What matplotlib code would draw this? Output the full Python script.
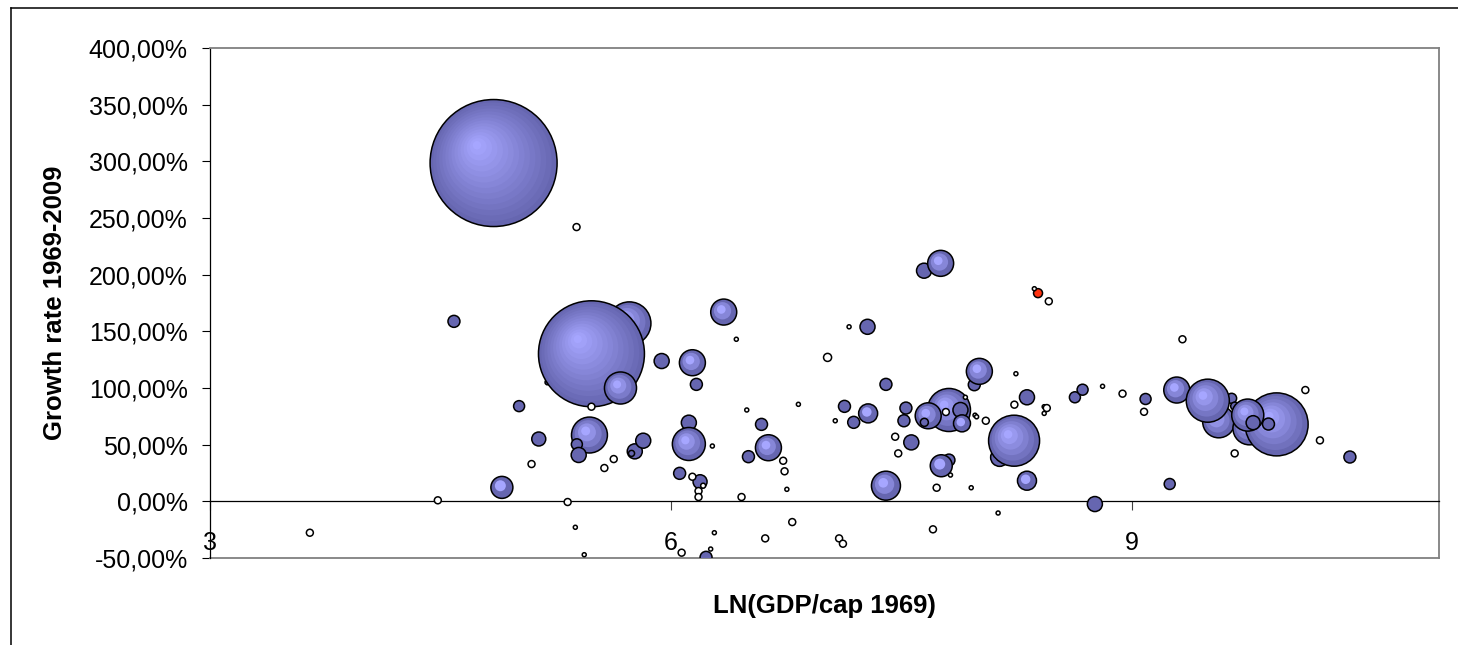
import numpy as np
import matplotlib
matplotlib.use('Agg')
import matplotlib.pyplot as plt
from matplotlib.patches import Ellipse
from matplotlib.lines import Line2D
from matplotlib.ticker import FuncFormatter, MultipleLocator

plt.rcParams['font.family'] = ['Liberation Sans', 'DejaVu Sans']

# main series: LN(GDP/cap 1969), growth 1969-2009 in %, bubble size (population, millions)
blue_x = [4.846, 5.73, 5.197, 5.483, 5.672, 4.588, 5.012, 5.14, 5.47, 5.388,
          5.40, 5.765, 5.744, 5.82, 4.90, 5.94, 6.14, 6.166, 6.117, 6.117,
          6.057, 6.19, 6.229, 6.344, 6.59, 6.635, 6.505, 7.28, 7.13, 7.19,
          7.284, 7.40, 7.40, 7.53, 7.517, 7.565, 7.81, 7.675, 7.65, 7.885,
          7.895, 7.975, 8.008, 7.81, 7.76, 7.648, 7.756, 8.318, 8.14, 8.234,
          8.318, 8.63, 8.68, 8.76, 9.09, 9.247, 9.293, 9.566, 9.65, 9.67,
          9.495, 9.766, 9.845, 9.943, 9.755, 9.79, 9.89, 10.42]
blue_y = [298.5, 157.0, 105.0, 130.2, 100.0, 158.8, 84.0, 55.0, 58.5, 50.3,
          40.9, 44.1, 42.3, 53.5, 12.3, 123.8, 122.3, 103.2, 69.4, 50.6,
          24.7, 17.3, -49.4, 167.0, 67.9, 47.3, 39.4, 154.0, 83.8, 69.7,
          77.6, 103.2, 13.8, 82.3, 71.1, 52.0, 80.6, 75.5, 69.7, 80.6,
          68.8, 102.9, 114.7, 36.4, 31.4, 203.5, 210.0, 91.8, 38.8, 53.5,
          18.2, 91.8, 98.5, -2.4, 90.3, 15.3, 98.2, 70.2, 90.9, 84.0,
          88.8, 64.4, 64.4, 67.9, 76.1, 69.4, 68.2, 39.1]
blue_pop = [800, 92, 1.2, 557, 51, 7.1, 6.0, 9.7, 64, 6.0,
            11.2, 11.2, 1.8, 11.2, 24, 11.2, 33.5, 7.1, 11.2, 54,
            7.1, 9.7, 7.1, 33.5, 7.1, 33.5, 7.1, 11.2, 7.1, 7.1,
            17.9, 7.1, 41.7, 7.1, 7.1, 11.2, 92, 33.5, 3.2, 11.2,
            14.3, 7.1, 33.5, 7.1, 24, 11.2, 33.5, 11.2, 16.1, 129,
            17.9, 6.0, 6.0, 11.2, 6.0, 6.0, 33.5, 51, 5.0, 3.2,
            92, 54, 3.2, 197, 51, 9.7, 7.1, 7.1]

# small countries (white bubbles)
white_x = [5.483, 5.093, 5.567, 5.628, 4.483, 5.328, 3.65, 5.378, 5.436, 5.386,
           6.14, 6.21, 6.18, 6.18, 6.27, 6.426, 6.494, 6.731, 6.74, 6.755,
           6.46, 6.283, 6.259, 6.07, 6.614, 6.79, 7.095, 7.12, 7.02, 7.16,
           6.83, 7.07, 7.46, 7.48, 7.79, 7.917, 7.98, 7.99, 8.05, 8.246,
           8.236, 8.43, 8.447, 8.43, 7.82, 7.73, 7.955, 8.13, 7.706, 8.366,
           8.46, 8.81, 8.94, 9.08, 9.33, 9.67, 10.13, 10.225]
white_y = [83.5, 32.9, 29.4, 37.3, 0.9, -0.6, -27.7, -22.9, -47.1, 242.0,
           21.7, 13.8, 9.1, 3.8, 48.8, 143.0, 80.6, 35.8, 26.5, 10.6,
           3.8, -27.7, -42.1, -45.3, -32.7, -18.3, -32.7, -37.4, 127.0, 154.0,
           85.6, 71.1, 57.0, 42.3, 78.8, 91.8, 76.0, 74.6, 71.1, 112.6,
           85.3, 83.5, 82.3, 77.6, 23.2, 12.0, 12.0, -10.3, -24.7, 187.6,
           176.5, 101.5, 95.0, 79.0, 143.0, 42.3, 98.2, 53.8]
white_pop = [2.4, 2.4, 2.4, 2.4, 2.4, 2.4, 2.4, 0.8, 0.8, 2.4,
             2.4, 1.2, 2.4, 2.4, 0.8, 0.8, 0.8, 2.4, 2.4, 0.8,
             2.4, 0.8, 0.8, 2.4, 2.4, 2.4, 2.4, 2.4, 3.2, 0.8,
             0.8, 0.8, 2.4, 2.4, 2.4, 0.8, 0.8, 0.8, 2.4, 0.8,
             2.4, 0.8, 2.4, 0.8, 0.8, 2.4, 0.8, 0.8, 2.4, 0.8,
             2.4, 0.8, 2.4, 2.4, 2.4, 2.4, 2.4, 2.4]

# highlighted country
red_x = [8.39]
red_y = [183.7]
red_pop = [4.0]

xmin, xmax = 3, 11
ymin, ymax = -50, 400

MAX_D = 127.0      # diameter in px of the biggest bubble
MAX_POP = 800.0
EDGE = np.array([102, 102, 176]) / 255
LIGHT = np.array([166, 166, 255]) / 255

fig = plt.figure(figsize=(14.58, 6.45), dpi=100)
ax = fig.add_axes([210 / 1458, 87 / 645, 1229 / 1458, 510 / 645])
ax.set_xlim(xmin, xmax)
ax.set_ylim(ymin, ymax)

fw, fh = fig.get_size_inches() * fig.dpi
pos = ax.get_position()
sx = pos.width * fw / (xmax - xmin)    # px per x unit
sy = pos.height * fh / (ymax - ymin)   # px per y unit


def diam(p):
    return MAX_D * np.sqrt(p / MAX_POP)


def shaded_bubble(x, y, d, z):
    R = d / 2
    n = max(1, int(R / 4))
    for i in range(n):
        t = i / n
        c = EDGE + (LIGHT - EDGE) * (i / (n - 1) if n > 1 else 0)
        r = R * (1 - t)
        cx = x - 0.28 * R * t / sx
        cy = y + 0.30 * R * t / sy
        ax.add_patch(Ellipse((cx, cy), 2 * r / sx, 2 * r / sy,
                             facecolor=c, edgecolor='none', zorder=z))
    ax.add_patch(Ellipse((x, y), d / sx, d / sy, facecolor='none',
                         edgecolor='black', lw=1.1, zorder=z))


def flat_bubble(x, y, d, color, z):
    ax.add_patch(Ellipse((x, y), d / sx, d / sy, facecolor=color,
                         edgecolor='black', lw=1.1, zorder=z))


for x, y, p in zip(blue_x, blue_y, blue_pop):
    shaded_bubble(x, y, diam(p), 3)
for x, y, p in zip(red_x, red_y, red_pop):
    flat_bubble(x, y, diam(p), '#FF3311', 3.5)
for x, y, p in zip(white_x, white_y, white_pop):
    flat_bubble(x, y, diam(p), 'white', 4)

# axes styling (Excel look)
ax.spines['bottom'].set_position(('data', 0))
ax.spines['bottom'].set_color('black')
ax.spines['bottom'].set_linewidth(0.9)
ax.spines['left'].set_color('black')
ax.spines['left'].set_linewidth(0.9)
for s in ['top', 'right']:
    ax.spines[s].set_color('#808080')
    ax.spines[s].set_linewidth(1.3)
ax.axhline(ymin, color='#808080', lw=1.3, clip_on=False, zorder=2)

ax.yaxis.set_major_locator(MultipleLocator(50))
ax.yaxis.set_major_formatter(FuncFormatter(lambda v, _: f"{v:.2f}%".replace('.', ',')))
ax.xaxis.set_major_locator(MultipleLocator(3))
ax.xaxis.set_major_formatter(FuncFormatter(lambda v, _: f"{v:.0f}"))
ax.tick_params(axis='y', direction='out', length=5.5, width=0.8, pad=10.5, labelsize=18)
ax.tick_params(axis='x', direction='out', length=6.5, width=0.8, pad=15, labelsize=18,
               color='#404040')

ax.set_ylabel('Growth rate 1969-2009', fontsize=18.5, weight='bold', va='center')
ax.yaxis.set_label_coords(-0.126, 0.5)
ax.set_xlabel('LN(GDP/cap 1969)', fontsize=18.5, weight='bold', va='center')
ax.xaxis.set_label_coords(0.5, -0.094)

# chart area border (top and left visible)
ytop = 1 - 8 / 645
xl = 11 / 1458
fig.add_artist(Line2D([xl, 1], [ytop, ytop], transform=fig.transFigure, color='black', lw=1.1))
fig.add_artist(Line2D([xl, xl], [0, ytop], transform=fig.transFigure, color='black', lw=1.1))

fig.savefig('out.png', dpi=100)
